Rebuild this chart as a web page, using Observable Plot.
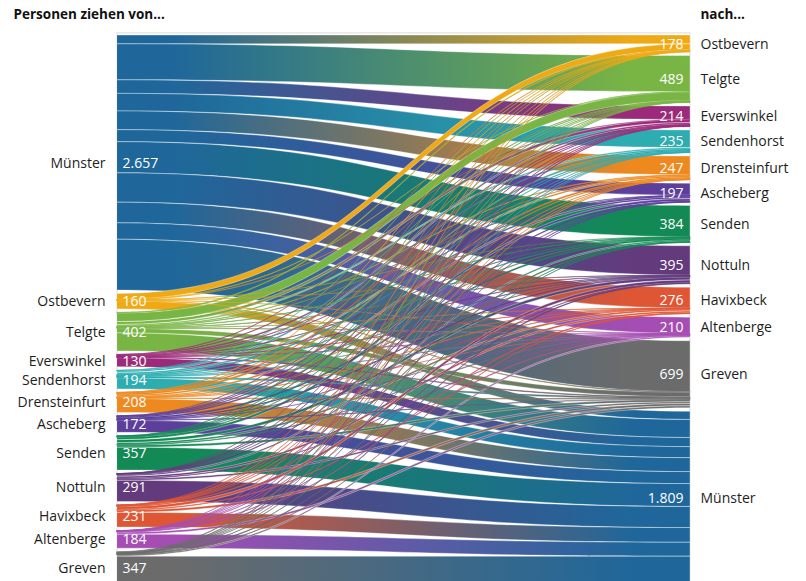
<!DOCTYPE html>
<html>
<head>
<meta charset="utf-8">
<script src="https://cdn.jsdelivr.net/npm/d3@7"></script>
<script src="https://cdn.jsdelivr.net/npm/@observablehq/plot@0.6"></script>
<style>
  html, body { margin: 0; padding: 0; background: #fff; }
  #chart svg { display: block; }
</style>
</head>
<body>
<div id="chart"></div>
<script>
// ---------- data ----------
const leftNames = ["Münster", "Ostbevern", "Telgte", "Everswinkel", "Sendenhorst", "Drensteinfurt",
  "Ascheberg", "Senden", "Nottuln", "Havixbeck", "Altenberge", "Greven"];
const rightNames = ["Ostbevern", "Telgte", "Everswinkel", "Sendenhorst", "Drensteinfurt", "Ascheberg",
  "Senden", "Nottuln", "Havixbeck", "Altenberge", "Greven", "Münster"];
const leftTotals = [2657, 160, 402, 130, 194, 208, 172, 357, 291, 231, 184, 347];
const rightTotals = [178, 489, 214, 235, 247, 197, 384, 395, 276, 210, 699, 1809];

// flows from Münster to each town (order of rightNames without Münster)
const fromMuenster = [92, 375, 141, 183, 195, 125, 325, 305, 216, 170, 530];
// flows from each town (order of leftNames without Münster) to Münster
const toMuenster = [85, 188, 95, 115, 145, 125, 238, 220, 153, 145, 300];
// flows between towns: row = source town, column = target town (Ostbevern ... Greven)
const betweenTowns = [
  [62, 3, 1, 0, 0, 0, 1, 1, 0, 1, 6],     // Ostbevern
  [8, 89, 30, 15, 6, 4, 5, 4, 3, 3, 47],  // Telgte
  [2, 5, 0, 10, 3, 2, 2, 2, 1, 1, 7],     // Everswinkel
  [1, 3, 18, 0, 19, 10, 6, 4, 3, 2, 13],  // Sendenhorst
  [1, 2, 8, 14, 0, 20, 6, 4, 2, 1, 5],    // Drensteinfurt
  [1, 1, 2, 4, 12, 0, 12, 6, 3, 1, 5],    // Ascheberg
  [2, 2, 3, 3, 5, 26, 0, 30, 19, 6, 23],  // Senden
  [1, 1, 2, 2, 2, 6, 15, 0, 20, 4, 18],   // Nottuln
  [1, 1, 2, 2, 3, 2, 8, 29, 0, 6, 24],    // Havixbeck
  [1, 1, 2, 1, 1, 1, 2, 3, 6, 0, 21],     // Altenberge
  [6, 6, 5, 1, 1, 1, 2, 7, 3, 15, 0]      // Greven
];

const placeColors = {
  "Münster": "#1f679a",
  "Ostbevern": "#efa914",
  "Telgte": "#79b544",
  "Everswinkel": "#9b2a7a",
  "Sendenhorst": "#2eadb1",
  "Drensteinfurt": "#ee891f",
  "Ascheberg": "#5d3f9b",
  "Senden": "#138a55",
  "Nottuln": "#633b7d",
  "Havixbeck": "#df5634",
  "Altenberge": "#a54db3",
  "Greven": "#6b6b6b"
};

// ---------- build links ----------
const links = [];
fromMuenster.forEach((v, j) => { if (v > 0) links.push({s: 0, t: j, value: v}); });
betweenTowns.forEach((row, i) => {
  row.forEach((v, j) => { if (v > 0) links.push({s: i + 1, t: j, value: v}); });
  links.push({s: i + 1, t: 11, value: toMuenster[i]});
});

const GAP = 36; // gap between nodes, in value units
function stackPositions(totals) {
  let y = 0;
  return totals.map(v => { const p = {y0: y, y1: y + v}; y += v + GAP; return p; });
}
const leftPos = stackPositions(leftTotals);
const rightPos = stackPositions(rightTotals);
const extent = leftPos[leftPos.length - 1].y1;

// offsets at source (ordered by target) and at target (ordered by source)
const srcOff = leftPos.map(p => p.y0);
[...links].sort((a, b) => a.s - b.s || a.t - b.t).forEach(l => {
  l.sy0 = srcOff[l.s]; l.sy1 = l.sy0 + l.value; srcOff[l.s] = l.sy1;
});
const tgtOff = rightPos.map(p => p.y0);
[...links].sort((a, b) => a.t - b.t || a.s - b.s).forEach(l => {
  l.ty0 = tgtOff[l.t]; l.ty1 = l.ty0 + l.value; tgtOff[l.t] = l.ty1;
});

const THIN = 15;
const ribbonRows = [];
links.forEach((l, k) => {
  const fill = `url(#grad-${l.s}-${l.t})`;
  const thin = l.value < THIN;
  ribbonRows.push({id: k, x: 0, y1: l.sy0, y2: l.sy1, fill, thin});
  ribbonRows.push({id: k, x: 1, y1: l.ty0, y2: l.ty1, fill, thin});
});
const thickRows = ribbonRows.filter(r => !r.thin);
const thinRows = ribbonRows.filter(r => r.thin);

const deFormat = d3.formatLocale({decimal: ",", thousands: ".", grouping: [3], currency: ["", " €"]}).format(",d");

const leftLabels = leftNames.map((n, i) => ({name: n, value: deFormat(leftTotals[i]), x: 0, y: (leftPos[i].y0 + leftPos[i].y1) / 2}));
const rightLabels = rightNames.map((n, i) => ({name: n, value: deFormat(rightTotals[i]), x: 1, y: (rightPos[i].y0 + rightPos[i].y1) / 2}));

const K = 0.096; // px per value unit
const TOP = 35;

const chart = Plot.plot({
  width: 806,
  height: 581,
  margin: 0,
  style: {fontFamily: "'Open Sans', sans-serif", fontSize: "14px", background: "#fff"},
  x: {domain: [0, 1], range: [117, 690], axis: null},
  y: {domain: [0, extent], range: [TOP, TOP + extent * K], axis: null},
  color: {type: "identity"},
  marks: [
    Plot.rect([0], {x1: 0, x2: 1, y1: -22, y2: extent + 50, fill: "none", stroke: "#dcdcdc", strokeWidth: 1}),
    Plot.area(thickRows, {
      x1: "x", y1: "y1", y2: "y2", z: "id", fill: "fill",
      curve: "bump-x", stroke: "white", strokeWidth: 0.45, strokeOpacity: 0.8
    }),
    Plot.area(thinRows, {
      x1: "x", y1: "y1", y2: "y2", z: "id", fill: "fill",
      curve: "bump-x", stroke: "fill", strokeWidth: 0.5, strokeOpacity: 0.9
    }),
    Plot.text(leftLabels, {x: "x", y: "y", text: "name", textAnchor: "end", dx: -12, fill: "#1e1e1e", fontSize: 14}),
    Plot.text(leftLabels, {x: "x", y: "y", text: "value", textAnchor: "start", dx: 5, fill: "white", fontSize: 14}),
    Plot.text(rightLabels, {x: "x", y: "y", text: "value", textAnchor: "end", dx: -7, fill: "white", fontSize: 14}),
    Plot.text(rightLabels, {x: "x", y: "y", text: "name", textAnchor: "start", dx: 10, fill: "#1e1e1e", fontSize: 14}),
    Plot.text(["Personen ziehen von..."], {frameAnchor: "top-left", dx: 13, dy: 9, textAnchor: "start", lineAnchor: "top", fontWeight: "bold", fontSize: 13.5, fill: "#111"}),
    Plot.text(["nach..."], {frameAnchor: "top-left", dx: 700, dy: 9, textAnchor: "start", lineAnchor: "top", fontWeight: "bold", fontSize: 13.5, fill: "#111"})
  ]
});

// gradients for the ribbons: source colour on the left, target colour on the right
const defs = d3.select(chart).insert("defs", ":first-child");
const seen = new Set();
links.forEach(l => {
  const id = `grad-${l.s}-${l.t}`;
  if (seen.has(id)) return;
  seen.add(id);
  const c0 = placeColors[leftNames[l.s]], c1 = placeColors[rightNames[l.t]];
  const g = defs.append("linearGradient").attr("id", id)
    .attr("x1", "0").attr("x2", "1").attr("y1", "0").attr("y2", "0");
  g.append("stop").attr("offset", "0").attr("stop-color", c0);
  g.append("stop").attr("offset", "0.1").attr("stop-color", c0);
  g.append("stop").attr("offset", "0.9").attr("stop-color", c1);
  g.append("stop").attr("offset", "1").attr("stop-color", c1);
});

document.getElementById("chart").appendChild(chart);
</script>
</body>
</html>
